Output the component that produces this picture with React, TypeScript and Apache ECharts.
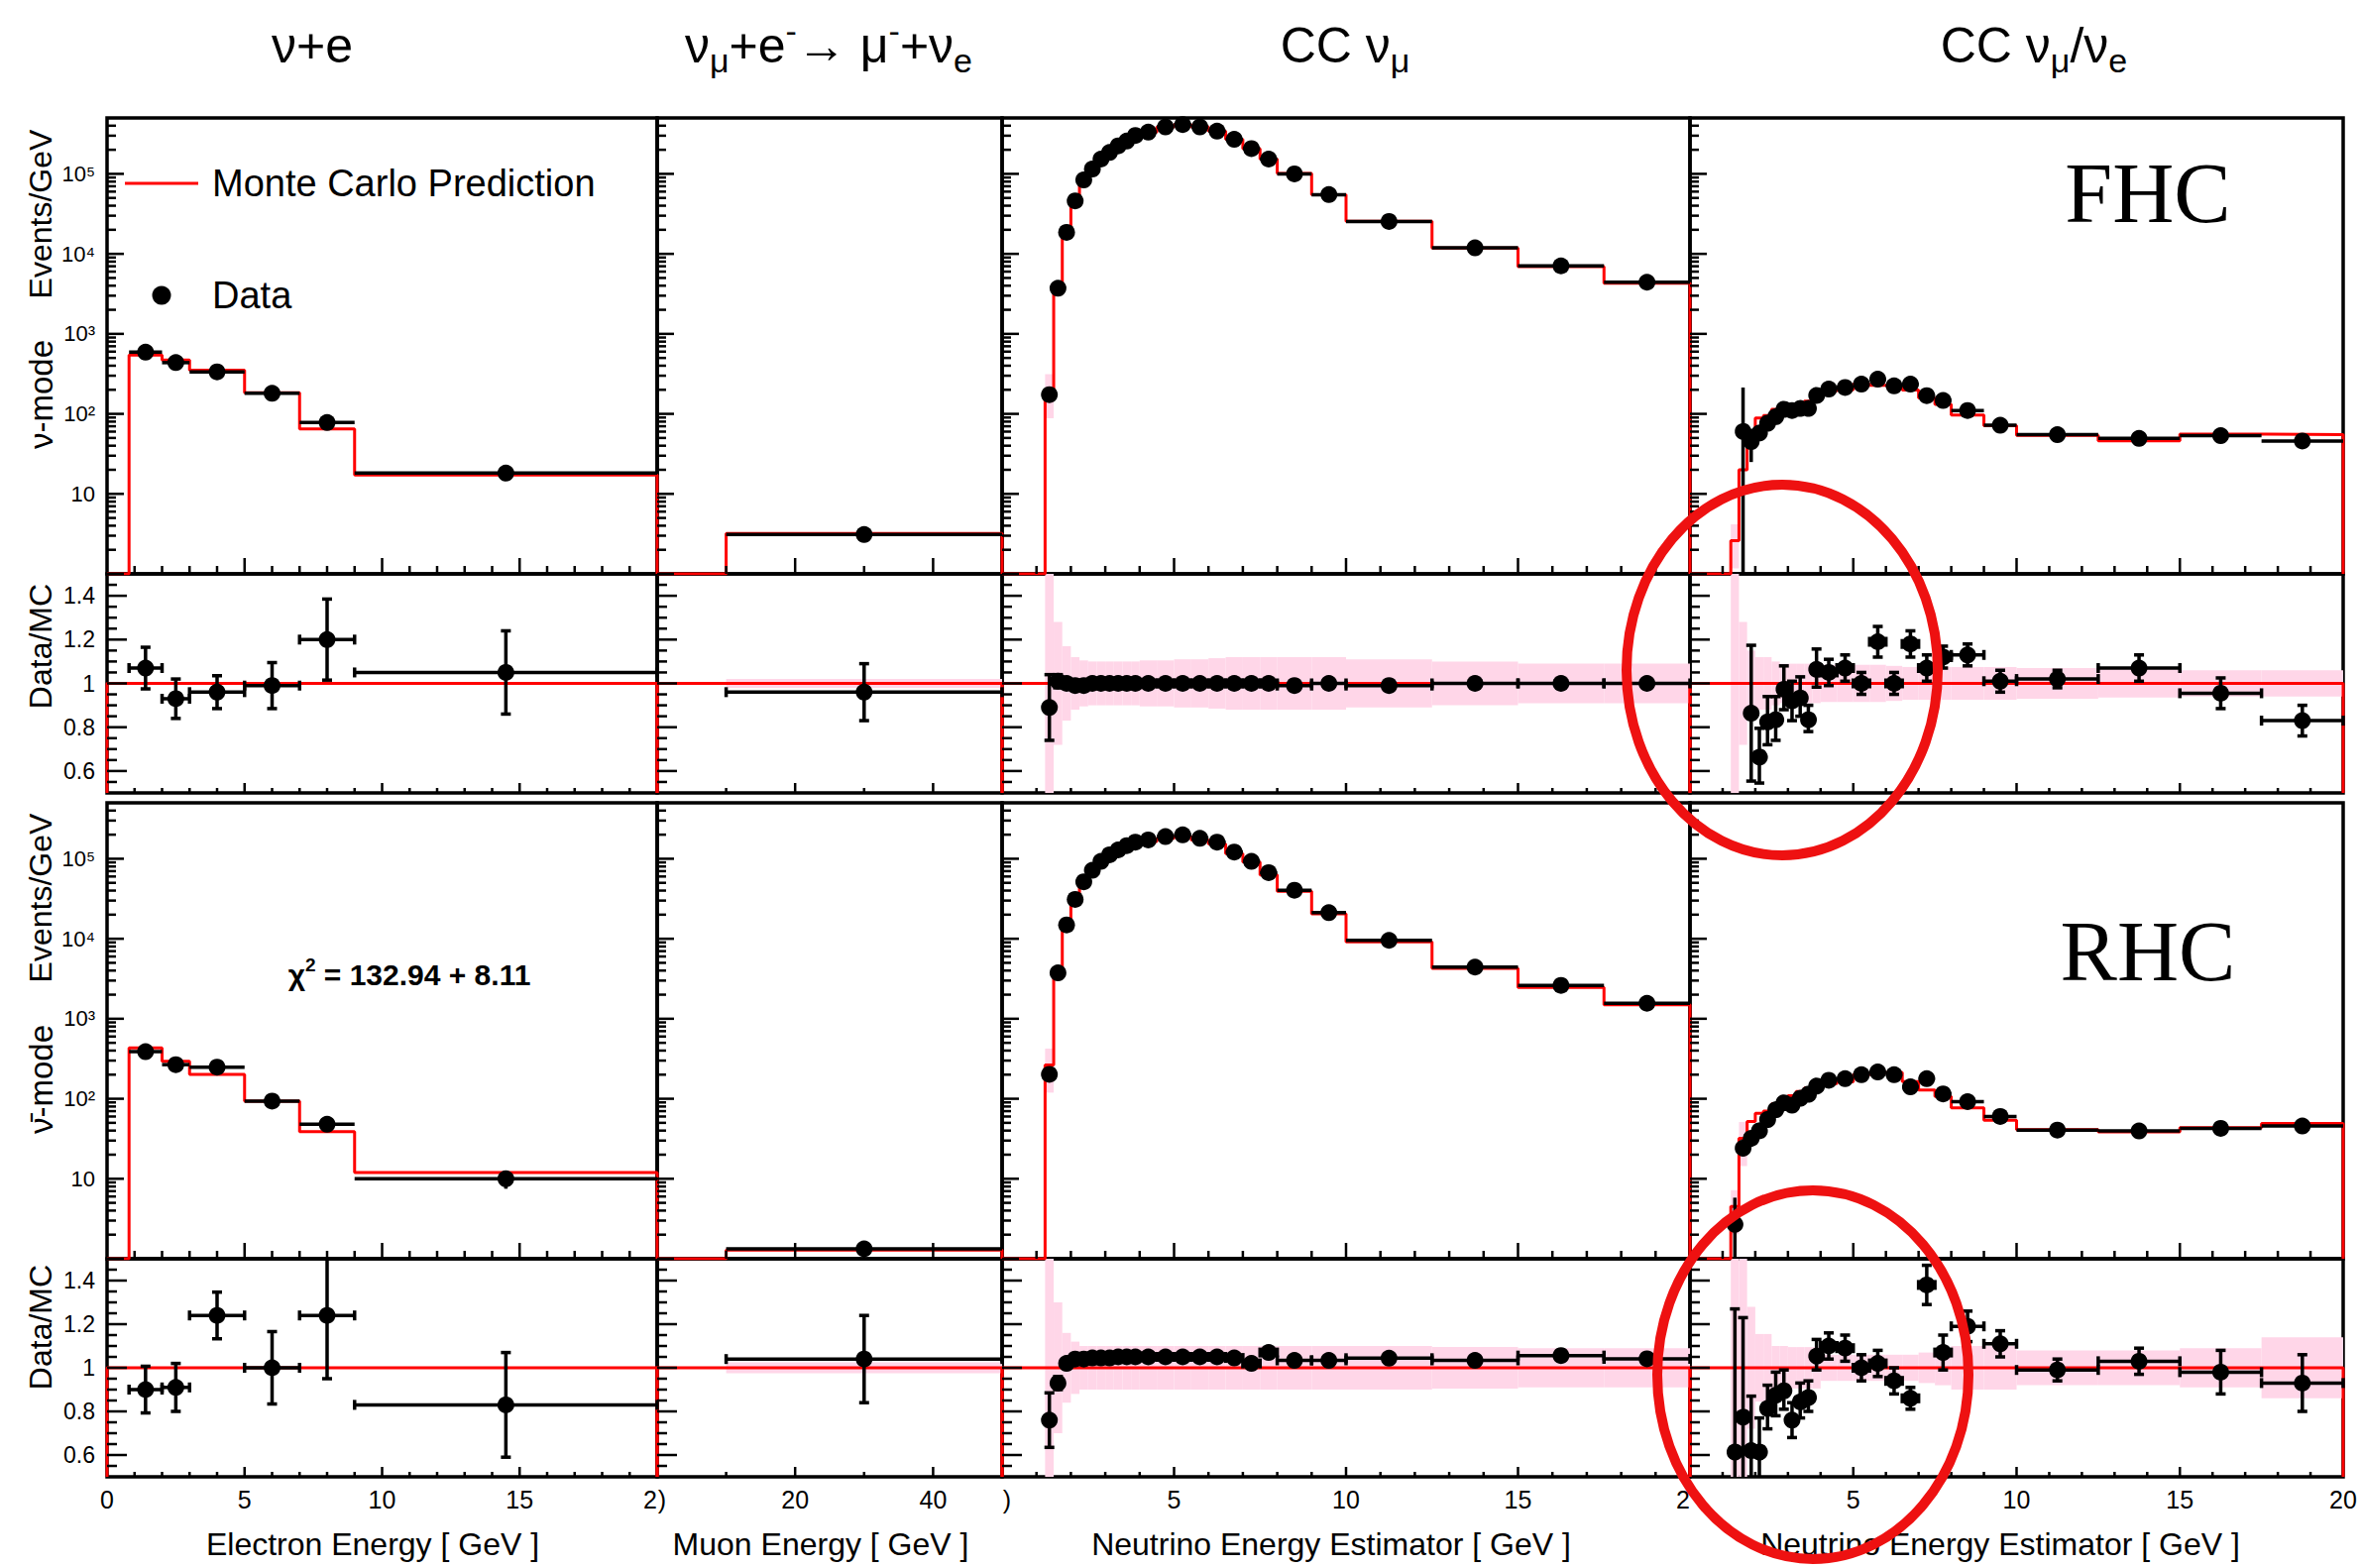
import React, { useEffect, useRef } from 'react';
import * as echarts from 'echarts';

const FONT = '"Liberation Sans", Arial, Helvetica, sans-serif';
const SERIF = '"Liberation Serif", "Times New Roman", Times, serif';

/* ---------------- Column 1 : nu + e  (electron energy, GeV) ---------------- */
const nueEdges = [0.8, 2, 3, 5, 7, 9, 20];
const nueFhcMC = [545, 470, 352, 184, 65, 17.2];
const nueFhcData = [590, 437, 335, 181, 78, 18.2];
const nueFhcDataErr = [25, 21, 13, 9, 7, 1.3];
const nueFhcRatio = [1.07, 0.93, 0.96, 0.99, 1.2, 1.05];
const nueFhcRatioErr = [0.095, 0.09, 0.075, 0.105, 0.185, 0.19];
const nueFhcBand = [0, 0, 0, 0, 0, 0];
const nueRhcMC = [431, 294, 201, 93.5, 38.8, 12.0];
const nueRhcData = [388, 267, 248, 93.5, 48, 10];
const nueRhcDataErr = [22, 18, 13, 9, 7, 2.5];
const nueRhcRatio = [0.9, 0.91, 1.24, 1.0, 1.24, 0.83];
const nueRhcRatioErr = [0.107, 0.11, 0.107, 0.166, 0.29, 0.24];
const nueRhcBand = [0, 0, 0, 0, 0, 0];

/* ---------------- Column 2 : numu + e -> mu + nue  (muon energy, GeV) ---------------- */
const mueEdges = [0, 10, 50];
const mueFhcMC = [0, 3.2];
const mueFhcData = [null, 3.1];
const mueFhcDataErr = [0, 0.4];
const mueFhcRatio = [null, 0.96];
const mueFhcRatioErr = [0, 0.13];
const mueFhcBand = [0, 0.02];
const mueRhcMC = [0, 1.28];
const mueRhcData = [null, 1.33];
const mueRhcDataErr = [0, 0.27];
const mueRhcRatio = [null, 1.04];
const mueRhcRatioErr = [0, 0.2];
const mueRhcBand = [0, 0.025];

/* ---------------- Columns 3 & 4 : neutrino energy estimator bins (GeV) ---------------- */
const ccEdges = [1.25, 1.5, 1.75, 2, 2.25, 2.5, 2.75, 3, 3.25, 3.5, 3.75, 4, 4.5, 5, 5.5, 6, 6.5, 7, 7.5, 8, 9, 10, 12.5, 15, 17.5, 20];

/* Column 3 : CC numu */
const numuFhcData = [174, 3720, 18600, 46000, 84000, 115000, 153000, 185000, 224000, 257000, 302000, 332000, 386000, 413000, 386000, 342000, 270000, 207000, 153000, 100000, 55000, 25400, 11900, 7080, 4420];
const numuFhcMC = [196, 3680, 18600, 46500, 84000, 115000, 153000, 185000, 224000, 257000, 302000, 332000, 386000, 413000, 386000, 342000, 270000, 207000, 153000, 101000, 55000, 25600, 11800, 6950, 4300];
const numuFhcRatio = [0.89, 1.01, 1.0, 0.99, 0.99, 1.0, 1.0, 1.0, 1.0, 1.0, 1.0, 1.0, 1.0, 1.0, 1.0, 1.0, 1.0, 1.0, 1.0, 0.99, 1.0, 0.99, 1.0, 1.0, 1.0];
const numuFhcRatioErr = [0.15, 0.03, 0.015, 0.01, 0.01, 0.01, 0.01, 0.01, 0.01, 0.01, 0.01, 0.01, 0.01, 0.01, 0.01, 0.01, 0.01, 0.01, 0.01, 0.01, 0.01, 0.01, 0.01, 0.01, 0.015];
const numuFhcBand = [1, 0.28, 0.17, 0.12, 0.105, 0.1, 0.1, 0.1, 0.1, 0.1, 0.1, 0.105, 0.105, 0.11, 0.11, 0.115, 0.12, 0.12, 0.12, 0.12, 0.12, 0.11, 0.1, 0.09, 0.09];
const numuRhcData = [202, 3750, 14900, 31000, 51500, 71700, 92700, 112000, 129000, 146000, 161000, 172000, 189000, 199000, 180000, 161000, 121000, 92700, 67000, 40400, 21200, 9550, 4420, 2610, 1560];
const numuRhcMC = [265, 4020, 14600, 29800, 49500, 68600, 88700, 107000, 123000, 139000, 153000, 164000, 180000, 190000, 171000, 153000, 116000, 90900, 62800, 39100, 20500, 9150, 4270, 2470, 1500];
const numuRhcRatio = [0.76, 0.93, 1.02, 1.04, 1.04, 1.045, 1.045, 1.045, 1.05, 1.05, 1.05, 1.05, 1.05, 1.05, 1.05, 1.05, 1.045, 1.02, 1.07, 1.034, 1.034, 1.044, 1.034, 1.056, 1.041];
const numuRhcRatioErr = [0.125, 0.03, 0.015, 0.01, 0.01, 0.01, 0.01, 0.01, 0.01, 0.01, 0.01, 0.01, 0.01, 0.01, 0.01, 0.01, 0.01, 0.01, 0.01, 0.01, 0.01, 0.01, 0.01, 0.015, 0.015];
const numuRhcBand = [1, 0.3, 0.16, 0.12, 0.1, 0.1, 0.1, 0.1, 0.1, 0.1, 0.1, 0.1, 0.1, 0.1, 0.1, 0.1, 0.1, 0.1, 0.1, 0.1, 0.1, 0.1, 0.095, 0.09, 0.09];

/* Column 4 : CC numu / nue */
const nuefFhcData = [null, 62.7, 45, 59.7, 79, 96, 118, 110, 121, 121, 177, 204, 214, 235, 271, 224, 235, 169, 147, 110, 72, 55, 49.4, 53.3, 45.8];
const nuefFhcDataErr = [0, 150, 20, 12, 12, 12, 12, 11, 11, 11, 13, 12, 12, 12, 15, 12, 13, 10, 8, 6, 4, 2.5, 3, 4, 4];
const nuefFhcMC = [2.6, 20, 52, 89, 95, 114, 120, 120, 129, 144, 165, 194, 200, 235, 228, 224, 199, 158, 131, 97, 71, 54, 46, 56, 55];
const nuefFhcRatio = [null, null, 0.864, 0.67, 0.83, 0.84, 0.98, 0.92, 0.94, 0.84, 1.07, 1.05, 1.07, 1.0, 1.19, 1.0, 1.18, 1.07, 1.12, 1.13, 1.01, 1.02, 1.07, 0.955, 0.83];
const nuefFhcRatioErr = [0, 0, 0.31, 0.125, 0.11, 0.1, 0.1, 0.09, 0.09, 0.06, 0.087, 0.06, 0.06, 0.05, 0.07, 0.05, 0.06, 0.06, 0.05, 0.05, 0.05, 0.04, 0.06, 0.07, 0.07];
const nuefFhcBand = [1, 0.28, 0.15, 0.12, 0.12, 0.1, 0.09, 0.09, 0.09, 0.09, 0.09, 0.085, 0.085, 0.085, 0.085, 0.08, 0.075, 0.075, 0.075, 0.075, 0.075, 0.07, 0.065, 0.06, 0.06];
const nuefRhcData = [2.8, 25, 32, 41, 57, 76, 92, 83, 105, 118, 150, 170, 178, 200, 216, 200, 141, 178, 115, 92, 60, 40.6, 39.6, 42.7, 45.7];
const nuefRhcDataErr = [3, 6, 7, 7, 8, 9, 10, 8, 9, 9, 10, 10, 10, 11, 12, 11, 9, 11, 8, 6, 4, 2.5, 3, 4, 5];
const nuefRhcMC = [4.5, 32, 52, 66, 70, 86, 102, 109, 123, 136, 142, 155, 163, 200, 212, 213, 164, 129, 107, 77, 54, 41, 38.5, 43.5, 49];
const nuefRhcRatio = [0.62, 0.78, 0.62, 0.62, 0.82, 0.88, 0.9, 0.76, 0.85, 0.87, 1.06, 1.1, 1.09, 1.0, 1.02, 0.94, 0.86, 1.38, 1.07, 1.19, 1.11, 0.99, 1.03, 0.98, 0.93];
const nuefRhcRatioErr = [0.65, 0.45, 0.25, 0.15, 0.1, 0.1, 0.09, 0.08, 0.08, 0.07, 0.07, 0.06, 0.06, 0.06, 0.06, 0.06, 0.05, 0.09, 0.08, 0.07, 0.06, 0.05, 0.06, 0.1, 0.13];
const nuefRhcBand = [1, 0.6, 0.28, 0.155, 0.155, 0.1, 0.1, 0.095, 0.095, 0.095, 0.095, 0.06, 0.06, 0.06, 0.06, 0.06, 0.06, 0.07, 0.08, 0.1, 0.1, 0.08, 0.08, 0.09, 0.14];

/* ---------------- texts ---------------- */
const columnTitles = [
  '{n|ν+e}',
  '{n|ν}{sb|μ}{n|+e}{sp|-}{n|→ μ}{sp|-}{n|+ν}{sb|e}',
  '{n|CC ν}{sb|μ}',
  '{n|CC ν}{sb|μ}{n|/ν}{sb|e}',
];
const xAxisTitles = ['Electron Energy [ GeV ]', 'Muon Energy [ GeV ]', 'Neutrino Energy Estimator [ GeV ]', 'Neutrino Energy Estimator [ GeV ]'];
const xTickLabels: Record<number, string>[] = [
  { 0: '0', 5: '5', 10: '10', 15: '15', 20: '{r|2}' },
  { 0: '{l|)}', 20: '20', 40: '40' },
  { 0: '{l|)}', 5: '5', 10: '10', 15: '15', 20: '{r|2}' },
  { 5: '5', 10: '10', 15: '15', 20: '20' },
];
const logTickLabels = ['', '10', '10²', '10³', '10⁴', '10⁵'];
const ratioTickLabels: Record<number, string> = { 6: '0.6', 8: '0.8', 10: '1', 12: '1.2', 14: '1.4' };

/* ---------------- layout ---------------- */
const COLS = [[108, 663], [663, 1011], [1011, 1705], [1705, 2364]];
const ROWS = [[119, 579], [579, 800], [810, 1270], [1270, 1490]];
const X_RANGES = [
  { min: 0, max: 20, interval: 5 },
  { min: 0, max: 50, interval: 10 },
  { min: 0, max: 20, interval: 5 },
  { min: 0, max: 20, interval: 5 },
];
const LOG_MIN = 1;
const LOG_MAX = 5e5;
const R_MIN = 0.5;
const R_MAX = 1.5;
const TITLE_X = [315, 836, 1357, 2052];
const XTITLE_X = [376, 828, 1343, 2018];

type Hist = { edges: number[]; mc: number[]; data: (number | null)[]; dataErr?: number[]; ratio: (number | null)[]; ratioErr: number[]; band: number[] };

const HISTS: Hist[][] = [
  [
    { edges: nueEdges, mc: nueFhcMC, data: nueFhcData, dataErr: nueFhcDataErr, ratio: nueFhcRatio, ratioErr: nueFhcRatioErr, band: nueFhcBand },
    { edges: nueEdges, mc: nueRhcMC, data: nueRhcData, dataErr: nueRhcDataErr, ratio: nueRhcRatio, ratioErr: nueRhcRatioErr, band: nueRhcBand },
  ],
  [
    { edges: mueEdges, mc: mueFhcMC, data: mueFhcData, dataErr: mueFhcDataErr, ratio: mueFhcRatio, ratioErr: mueFhcRatioErr, band: mueFhcBand },
    { edges: mueEdges, mc: mueRhcMC, data: mueRhcData, dataErr: mueRhcDataErr, ratio: mueRhcRatio, ratioErr: mueRhcRatioErr, band: mueRhcBand },
  ],
  [
    { edges: ccEdges, mc: numuFhcMC, data: numuFhcData, ratio: numuFhcRatio, ratioErr: numuFhcRatioErr, band: numuFhcBand },
    { edges: ccEdges, mc: numuRhcMC, data: numuRhcData, ratio: numuRhcRatio, ratioErr: numuRhcRatioErr, band: numuRhcBand },
  ],
  [
    { edges: ccEdges, mc: nuefFhcMC, data: nuefFhcData, dataErr: nuefFhcDataErr, ratio: nuefFhcRatio, ratioErr: nuefFhcRatioErr, band: nuefFhcBand },
    { edges: ccEdges, mc: nuefRhcMC, data: nuefRhcData, dataErr: nuefRhcDataErr, ratio: nuefRhcRatio, ratioErr: nuefRhcRatioErr, band: nuefRhcBand },
  ],
];

function stepPoints(edges: number[], vals: number[], floor: number, xStart: number) {
  const pts: number[][] = [[xStart, floor], [edges[0], floor]];
  for (let i = 0; i < vals.length; i++) {
    const v = vals[i] > floor ? vals[i] : floor;
    pts.push([edges[i], v], [edges[i + 1], v]);
  }
  pts.push([edges[edges.length - 1], floor]);
  return pts;
}

function dataRenderer(yMin: number, yMax: number, caps: boolean) {
  return (_p: any, api: any) => {
    const x = api.value(0), y = api.value(1), xl = api.value(2), xh = api.value(3), yl = api.value(4), yh = api.value(5);
    const S = { stroke: '#000', lineWidth: 3.5 };
    const ch: any[] = [];
    const seg = (a: number[], b: number[]) => ch.push({ type: 'line', shape: { x1: a[0], y1: a[1], x2: b[0], y2: b[1] }, style: S });
    const inY = y >= yMin && y <= yMax;
    if (inY) {
      const a = api.coord([xl, y]);
      const b = api.coord([xh, y]);
      seg(a, b);
      if (caps) {
        seg([a[0], a[1] - 5], [a[0], a[1] + 5]);
        seg([b[0], b[1] - 5], [b[0], b[1] + 5]);
      }
    }
    const lo = Math.max(yl, yMin);
    const hi = Math.min(yh, yMax);
    if (hi > lo) {
      const p = api.coord([x, lo]);
      const q = api.coord([x, hi]);
      seg(p, q);
      if (caps) {
        if (yl >= yMin) seg([p[0] - 5, p[1]], [p[0] + 5, p[1]]);
        if (yh <= yMax) seg([q[0] - 5, q[1]], [q[0] + 5, q[1]]);
      }
    }
    if (inY) {
      const c = api.coord([x, y]);
      ch.push({ type: 'circle', shape: { cx: c[0], cy: c[1], r: 8.5 }, style: { fill: '#000' } });
    }
    return { type: 'group', children: ch };
  };
}

function bandRenderer(_p: any, api: any) {
  const a = api.coord([api.value(0), api.value(3)]);
  const b = api.coord([api.value(2), api.value(1)]);
  return { type: 'rect', shape: { x: a[0], y: a[1], width: b[0] - a[0], height: b[1] - a[1] }, style: { fill: '#ffd6e8' } };
}

function tickRenderer(xMaj: number[], xMin: number[], yMaj: number[], yMin: number[], xLen: number[], yLen: number[], xAt: number, yAt: number) {
  return (_p: any, api: any) => {
    const S = { stroke: '#000', lineWidth: 2.5 };
    const ch: any[] = [];
    const add = (a: number[], b: number[]) => ch.push({ type: 'line', shape: { x1: a[0], y1: a[1], x2: b[0], y2: b[1] }, style: S });
    xMaj.forEach((v) => { const p = api.coord([v, yAt]); add(p, [p[0], p[1] - xLen[0]]); });
    xMin.forEach((v) => { const p = api.coord([v, yAt]); add(p, [p[0], p[1] - xLen[1]]); });
    yMaj.forEach((v) => { const p = api.coord([xAt, v]); add(p, [p[0] + yLen[0], p[1]]); });
    yMin.forEach((v) => { const p = api.coord([xAt, v]); add(p, [p[0] + yLen[1], p[1]]); });
    return { type: 'group', children: ch };
  };
}

function logFmt(v: number) {
  const e = Math.log10(v);
  const k = Math.round(e);
  if (Math.abs(e - k) > 1e-6) return '';
  return logTickLabels[k] ?? '';
}
function ratioFmt(v: number) {
  const k = Math.round(v * 10);
  if (Math.abs(v * 10 - k) > 1e-6) return '';
  return ratioTickLabels[k] ?? '';
}

function buildOption() {
  const grid: any[] = [];
  const xAxis: any[] = [];
  const yAxis: any[] = [];
  const series: any[] = [];

  // tick lists (axis decoration)
  const logMajor: number[] = [];
  const logMinor: number[] = [];
  for (let d = 0; d <= 5; d++) {
    logMajor.push(Math.pow(10, d));
    for (let m = 2; m <= 9; m++) { const v = m * Math.pow(10, d); if (v < LOG_MAX) logMinor.push(v); }
  }
  const rMajor = [0.6, 0.8, 1.0, 1.2, 1.4];
  const rMinor: number[] = [];
  for (let k = 11; k <= 29; k++) if (k % 4 !== 0) rMinor.push(k * 0.05);

  for (let r = 0; r < 4; r++) {
    const isRatio = r % 2 === 1;
    const mode = r < 2 ? 0 : 1;
    for (let c = 0; c < 4; c++) {
      const g = r * 4 + c;
      const xr = X_RANGES[c];
      grid.push({
        left: COLS[c][0], top: ROWS[r][0], width: COLS[c][1] - COLS[c][0], height: ROWS[r][1] - ROWS[r][0],
        show: true, borderColor: '#000', borderWidth: 3.5, backgroundColor: 'transparent', containLabel: false, outerBoundsMode: 'none',
      });
      xAxis.push({
        gridIndex: g, type: 'value', min: xr.min, max: xr.max, interval: xr.interval,
        axisLine: { show: false }, axisTick: { show: false }, splitLine: { show: false }, minorTick: { show: false },
        axisLabel: {
          show: r === 3, color: '#000', fontFamily: FONT, fontSize: 25, margin: 10,
          formatter: (v: number) => xTickLabels[c][Math.round(v)] ?? '',
          rich: {
            r: { color: '#000', fontFamily: FONT, fontSize: 25, padding: [0, 14, 0, 0] },
            l: { color: '#000', fontFamily: FONT, fontSize: 25, padding: [0, 0, 0, 10] },
          },
        },
      });
      if (isRatio) {
        yAxis.push({
          gridIndex: g, type: 'value', min: R_MIN, max: R_MAX, interval: 0.1,
          axisLine: { show: false }, axisTick: { show: false }, splitLine: { show: false }, minorTick: { show: false },
          axisLabel: { show: c === 0, formatter: ratioFmt, color: '#000', fontFamily: FONT, fontSize: 23, margin: 12 },
        });
      } else {
        yAxis.push({
          gridIndex: g, type: 'log', logBase: 10, min: LOG_MIN, max: LOG_MAX,
          axisLine: { show: false }, axisTick: { show: false }, splitLine: { show: false }, minorTick: { show: false },
          axisLabel: { show: c === 0, formatter: logFmt, color: '#000', fontFamily: FONT, fontSize: 22, margin: 12 },
        });
      }

      const h = HISTS[c][mode];
      const nb = h.edges.length - 1;
      const band: number[][] = [];
      const pts: any[] = [];
      if (!isRatio) {
        for (let i = 0; i < nb; i++) {
          if (h.band[i] >= 0.5 && h.mc[i] > 0) band.push([h.edges[i], Math.max(h.mc[i] * 0.45, LOG_MIN), h.edges[i + 1], Math.min(h.mc[i] * 1.6, LOG_MAX)]);
          const d = h.data[i];
          if (d == null) continue;
          const e = h.dataErr ? h.dataErr[i] : 0;
          pts.push([(h.edges[i] + h.edges[i + 1]) / 2, d, h.edges[i], h.edges[i + 1], d - e, d + e]);
        }
      } else {
        for (let i = 0; i < nb; i++) {
          const b = h.band[i];
          if (b > 0) band.push([h.edges[i], Math.max(1 - b, R_MIN), h.edges[i + 1], Math.min(1 + b, R_MAX)]);
          const q = h.ratio[i];
          if (q == null) continue;
          const e = h.ratioErr[i];
          pts.push([(h.edges[i] + h.edges[i + 1]) / 2, q, h.edges[i], h.edges[i + 1], q - e, q + e]);
        }
      }
      if (band.length) {
        series.push({ type: 'custom', name: 'MC uncertainty', xAxisIndex: g, yAxisIndex: g, silent: true, z: 1, data: band, renderItem: bandRenderer });
      }
      const mcLine = isRatio
        ? [[xr.min, R_MIN], [xr.min, 1], [xr.max, 1], [xr.max, R_MIN]]
        : stepPoints(h.edges, h.mc, LOG_MIN, xr.min);
      series.push({
        type: 'line', name: 'Monte Carlo Prediction', xAxisIndex: g, yAxisIndex: g, data: mcLine, symbol: 'none', showSymbol: false,
        lineStyle: { color: '#ff0000', width: 3 }, z: 2, silent: true,
      });
      series.push({
        type: 'custom', name: 'Data', xAxisIndex: g, yAxisIndex: g, silent: true, z: 3, data: pts,
        renderItem: dataRenderer(isRatio ? R_MIN : LOG_MIN, isRatio ? R_MAX : LOG_MAX, isRatio),
      });
      // axis ticks
      const xMaj = c === 1 ? [20, 40] : [5, 10, 15];
      const xMin: number[] = [];
      if (c === 1) xMin.push(10, 30);
      else for (let k = 1; k < 20; k++) if (k % 5 !== 0) xMin.push(k);
      series.push({
        type: 'custom', xAxisIndex: g, yAxisIndex: g, silent: true, z: 4,
        data: [[xr.min, isRatio ? R_MIN : LOG_MIN]],
        renderItem: tickRenderer(
          xMaj, xMin,
          isRatio ? rMajor : logMajor, isRatio ? rMinor : logMinor,
          isRatio ? [10, 5] : [16, 8], isRatio ? [20, 10] : [17, 9],
          xr.min, isRatio ? R_MIN : LOG_MIN,
        ),
      });
    }
  }

  const titleRich = {
    n: { fontSize: 50, fontFamily: FONT, lineHeight: 64, fill: '#000', color: '#000' },
    sb: { fontSize: 34, fontFamily: FONT, lineHeight: 30, verticalAlign: 'bottom', fill: '#000', color: '#000' },
    sp: { fontSize: 34, fontFamily: FONT, lineHeight: 30, verticalAlign: 'top', fill: '#000', color: '#000' },
  };
  const txt = (x: number, y: number, text: string, fontSize: number, extra: any = {}, rot = 0) => ({
    type: 'text', x, y, rotation: rot, z: 50,
    style: {
      text, fontSize, fontFamily: FONT, fill: '#000',
      align: 'center', verticalAlign: 'middle', textAlign: 'center', textVerticalAlign: 'middle', ...extra,
    },
  });

  const graphic: any[] = [];
  columnTitles.forEach((t, i) => graphic.push(txt(TITLE_X[i], 46, t, 50, { rich: titleRich })));
  xAxisTitles.forEach((t, i) => graphic.push(txt(XTITLE_X[i], 1558, t, 32)));
  graphic.push(txt(41, 216, 'Events/GeV', 32, {}, Math.PI / 2));
  graphic.push(txt(41, 398, 'ν-mode', 33, {}, Math.PI / 2));
  graphic.push(txt(41, 652, 'Data/MC', 32, {}, Math.PI / 2));
  graphic.push(txt(41, 906, 'Events/GeV', 32, {}, Math.PI / 2));
  graphic.push(txt(41, 1089, 'ν\u0304-mode', 33, {}, Math.PI / 2));
  graphic.push(txt(41, 1339, 'Data/MC', 32, {}, Math.PI / 2));
  // legend
  graphic.push({ type: 'line', z: 50, shape: { x1: 126, y1: 185, x2: 200, y2: 185 }, style: { stroke: '#ff0000', lineWidth: 3 } });
  graphic.push(txt(214, 185, 'Monte Carlo Prediction', 38, { align: 'left', textAlign: 'left' }));
  graphic.push({ type: 'circle', z: 50, shape: { cx: 163, cy: 298, r: 9.5 }, style: { fill: '#000' } });
  graphic.push(txt(214, 298, 'Data', 38, { align: 'left', textAlign: 'left' }));
  // chi2
  graphic.push(txt(413, 983, '{c|χ}{s|2}{c| = 132.94 + 8.11}', 30, {
    rich: {
      c: { fontSize: 30, fontWeight: 'bold', fontFamily: FONT, lineHeight: 38, fill: '#000', color: '#000' },
      s: { fontSize: 19, fontWeight: 'bold', fontFamily: FONT, lineHeight: 19, verticalAlign: 'top', fill: '#000', color: '#000' },
    },
  }));
  // FHC / RHC
  graphic.push(txt(2167, 195, 'FHC', 86, { fontFamily: SERIF }));
  graphic.push(txt(2167, 960, 'RHC', 86, { fontFamily: SERIF }));
  // annotation ellipses
  graphic.push({ type: 'ellipse', z: 100, shape: { cx: 1798, cy: 676, rx: 157, ry: 187 }, style: { fill: 'none', stroke: '#ee1111', lineWidth: 10 } });
  graphic.push({ type: 'ellipse', z: 100, shape: { cx: 1829, cy: 1387, rx: 157, ry: 186 }, style: { fill: 'none', stroke: '#ee1111', lineWidth: 10 } });

  return {
    animation: false,
    backgroundColor: '#ffffff',
    textStyle: { fontFamily: FONT },
    grid, xAxis, yAxis, series, graphic,
  };
}

export default function App() {
  const ref = useRef<HTMLDivElement>(null);
  useEffect(() => {
    const chart = echarts.init(ref.current as HTMLDivElement, undefined, { renderer: 'svg' });
    chart.setOption(buildOption() as any);
    return () => chart.dispose();
  }, []);
  return <div ref={ref} style={{ position: 'fixed', left: 0, top: 0, width: 2383, height: 1582, background: '#fff' }} />;
}
